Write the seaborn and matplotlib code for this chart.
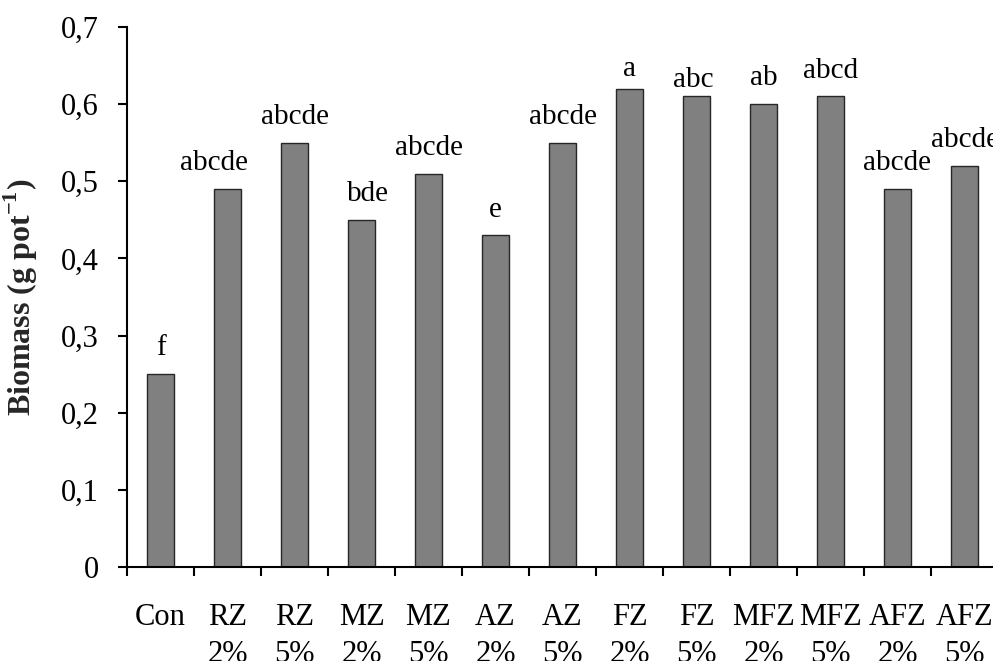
import matplotlib
matplotlib.use("Agg")
import matplotlib.pyplot as plt
import seaborn as sns
import pandas as pd
from matplotlib.ticker import FuncFormatter, FixedLocator

categories = ["Con", "RZ\n2%", "RZ\n5%", "MZ\n2%", "MZ\n5%", "AZ\n2%", "AZ\n5%",
              "FZ\n2%", "FZ\n5%", "MFZ\n2%", "MFZ\n5%", "AFZ\n2%", "AFZ\n5%"]
biomass = [0.25, 0.49, 0.55, 0.45, 0.51, 0.43, 0.55, 0.62, 0.61, 0.60, 0.61, 0.49, 0.52]
letters = ["f", "abcde", "abcde", "bde", "abcde", "e", "abcde",
           "a", "abc", "ab", "abcd", "abcde", "abcde"]
y_ticks = [0, 0.1, 0.2, 0.3, 0.4, 0.5, 0.6, 0.7]

# label offsets relative to bar tops (points): horizontal and vertical
label_dx = [0, -9.4, 0, 4.3, 0, 0, 0, 0, -2, 0, 0, 0, 0]
label_dy = [13.5, 13.5, 13.5, 13.5, 13.5, 13.5, 13.5, 9.5, 6.5, 13.5, 13.5, 13.5, 13.5]

sns.set_style("ticks")
plt.rcParams["font.family"] = ["Liberation Serif", "DejaVu Serif"]
plt.rcParams["mathtext.fontset"] = "custom"
plt.rcParams["mathtext.rm"] = "Liberation Serif"
plt.rcParams["mathtext.bf"] = "Liberation Serif:bold"

df = pd.DataFrame({"cat": categories, "val": biomass})

fig = plt.figure(figsize=(9.93, 6.61), dpi=100)
ax = fig.add_axes([127/993, 94/661, 871/993, 540/661])

sns.barplot(data=df, x="cat", y="val", color="#808080", saturation=1,
            edgecolor="#262626", linewidth=1.0, width=0.41, ax=ax)

ax.set_xlim(-0.5, len(categories) - 0.5)
ax.set_ylim(0, 0.7)
ax.set_yticks(y_ticks)
ax.yaxis.set_major_formatter(FuncFormatter(lambda v, p: "0" if abs(v) < 1e-9 else f"{v:.1f}".replace(".", ",")))

for s in ["top", "right"]:
    ax.spines[s].set_visible(False)
for s in ["left", "bottom"]:
    ax.spines[s].set_linewidth(1.5)
    ax.spines[s].set_color("black")

ax.tick_params(axis="y", which="major", direction="out", length=6.5, width=1.5,
               pad=14, labelsize=22, colors="black")
ax.tick_params(axis="x", which="major", length=0, pad=26, labelsize=22, colors="black")
ax.xaxis.set_minor_locator(FixedLocator([i - 0.5 for i in range(len(categories) + 1)]))
ax.tick_params(axis="x", which="minor", direction="out", length=6.5, width=1.5, color="black")
for t in ax.get_xticklabels():
    t.set_verticalalignment("top")
    t.set_linespacing(1.38)

ax.set_xlabel("")
ax.set_ylabel(r"Biomass (g pot$^{\mathbf{-1}}$)", fontsize=23, fontweight="bold")
ax.yaxis.set_label_coords(-0.10, 0.5)

for i, (v, lab, dx, dy) in enumerate(zip(biomass, letters, label_dx, label_dy)):
    ax.annotate(lab, (i, v), xytext=(dx, dy), textcoords="offset points",
                ha="center", va="baseline", fontsize=21, color="black",
                annotation_clip=False)

fig.savefig("out.png", dpi=100)
